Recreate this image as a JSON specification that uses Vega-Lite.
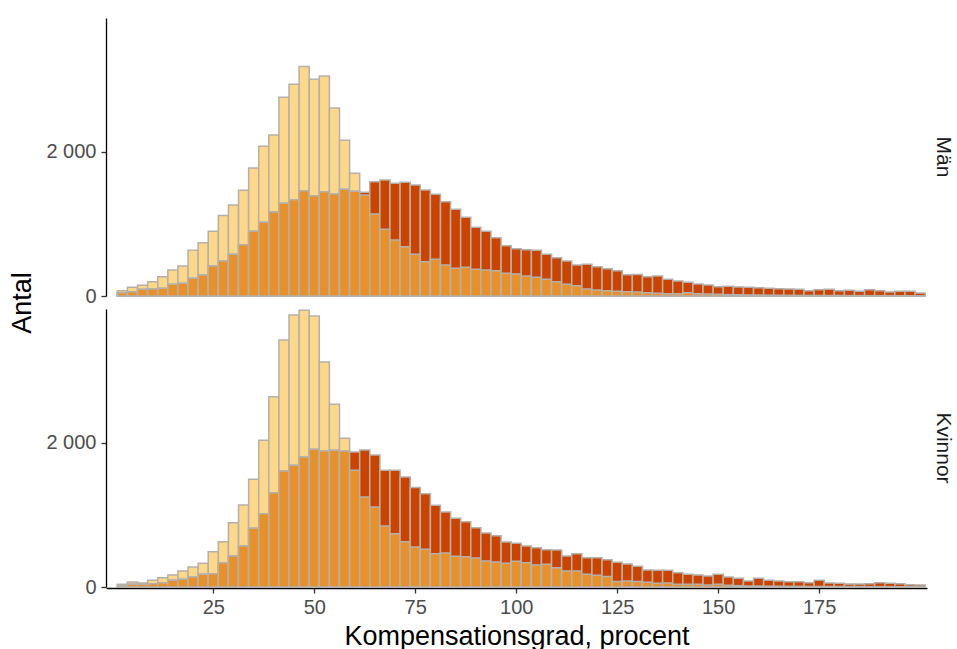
{
  "$schema": "https://vega.github.io/schema/vega-lite/v6.json",
  "padding": {"left": 9, "top": 18, "right": 2, "bottom": 5},
  "data": {"values": [
    {"s":"Män","lo":1.25,"hi":3.75,"a":74,"b":46,"o":46},
    {"s":"Män","lo":3.75,"hi":6.25,"a":121,"b":60,"o":60},
    {"s":"Män","lo":6.25,"hi":8.75,"a":148,"b":93,"o":93},
    {"s":"Män","lo":8.75,"hi":11.25,"a":199,"b":97,"o":97},
    {"s":"Män","lo":11.25,"hi":13.75,"a":268,"b":106,"o":106},
    {"s":"Män","lo":13.75,"hi":16.25,"a":361,"b":162,"o":162},
    {"s":"Män","lo":16.25,"hi":18.75,"a":417,"b":176,"o":176},
    {"s":"Män","lo":18.75,"hi":21.25,"a":634,"b":245,"o":245},
    {"s":"Män","lo":21.25,"hi":23.75,"a":741,"b":292,"o":292},
    {"s":"Män","lo":23.75,"hi":26.25,"a":898,"b":417,"o":417},
    {"s":"Män","lo":26.25,"hi":28.75,"a":1116,"b":486,"o":486},
    {"s":"Män","lo":28.75,"hi":31.25,"a":1264,"b":579,"o":579},
    {"s":"Män","lo":31.25,"hi":33.75,"a":1468,"b":713,"o":713},
    {"s":"Män","lo":33.75,"hi":36.25,"a":1778,"b":898,"o":898},
    {"s":"Män","lo":36.25,"hi":38.75,"a":2079,"b":1023,"o":1023},
    {"s":"Män","lo":38.75,"hi":41.25,"a":2236,"b":1167,"o":1167},
    {"s":"Män","lo":41.25,"hi":43.75,"a":2759,"b":1287,"o":1287},
    {"s":"Män","lo":43.75,"hi":46.25,"a":2940,"b":1338,"o":1338},
    {"s":"Män","lo":46.25,"hi":48.75,"a":3185,"b":1463,"o":1463},
    {"s":"Män","lo":48.75,"hi":51.25,"a":3009,"b":1393,"o":1393},
    {"s":"Män","lo":51.25,"hi":53.75,"a":3056,"b":1449,"o":1449},
    {"s":"Män","lo":53.75,"hi":56.25,"a":2611,"b":1417,"o":1417},
    {"s":"Män","lo":56.25,"hi":58.75,"a":2162,"b":1482,"o":1482},
    {"s":"Män","lo":58.75,"hi":61.25,"a":1704,"b":1454,"o":1454},
    {"s":"Män","lo":61.25,"hi":63.75,"a":1403,"b":1440,"o":1403},
    {"s":"Män","lo":63.75,"hi":66.25,"a":1139,"b":1588,"o":1139},
    {"s":"Män","lo":66.25,"hi":68.75,"a":926,"b":1611,"o":926},
    {"s":"Män","lo":68.75,"hi":71.25,"a":778,"b":1565,"o":778},
    {"s":"Män","lo":71.25,"hi":73.75,"a":685,"b":1579,"o":685},
    {"s":"Män","lo":73.75,"hi":76.25,"a":579,"b":1542,"o":579},
    {"s":"Män","lo":76.25,"hi":78.75,"a":477,"b":1472,"o":477},
    {"s":"Män","lo":78.75,"hi":81.25,"a":509,"b":1412,"o":509},
    {"s":"Män","lo":81.25,"hi":83.75,"a":431,"b":1310,"o":431},
    {"s":"Män","lo":83.75,"hi":86.25,"a":384,"b":1204,"o":384},
    {"s":"Män","lo":86.25,"hi":88.75,"a":398,"b":1093,"o":398},
    {"s":"Män","lo":88.75,"hi":91.25,"a":370,"b":954,"o":370},
    {"s":"Män","lo":91.25,"hi":93.75,"a":361,"b":898,"o":361},
    {"s":"Män","lo":93.75,"hi":96.25,"a":352,"b":810,"o":352},
    {"s":"Män","lo":96.25,"hi":98.75,"a":315,"b":699,"o":315},
    {"s":"Män","lo":98.75,"hi":101.25,"a":306,"b":657,"o":306},
    {"s":"Män","lo":101.25,"hi":103.75,"a":278,"b":643,"o":278},
    {"s":"Män","lo":103.75,"hi":106.25,"a":259,"b":634,"o":259},
    {"s":"Män","lo":106.25,"hi":108.75,"a":232,"b":579,"o":232},
    {"s":"Män","lo":108.75,"hi":111.25,"a":199,"b":532,"o":199},
    {"s":"Män","lo":111.25,"hi":113.75,"a":162,"b":486,"o":162},
    {"s":"Män","lo":113.75,"hi":116.25,"a":143,"b":431,"o":143},
    {"s":"Män","lo":116.25,"hi":118.75,"a":97,"b":440,"o":97},
    {"s":"Män","lo":118.75,"hi":121.25,"a":83,"b":407,"o":83},
    {"s":"Män","lo":121.25,"hi":123.75,"a":72,"b":380,"o":72},
    {"s":"Män","lo":123.75,"hi":126.25,"a":65,"b":352,"o":65},
    {"s":"Män","lo":126.25,"hi":128.75,"a":60,"b":295,"o":60},
    {"s":"Män","lo":128.75,"hi":131.25,"a":56,"b":300,"o":56},
    {"s":"Män","lo":131.25,"hi":133.75,"a":46,"b":268,"o":46},
    {"s":"Män","lo":133.75,"hi":136.25,"a":37,"b":278,"o":37},
    {"s":"Män","lo":136.25,"hi":138.75,"a":32,"b":232,"o":32},
    {"s":"Män","lo":138.75,"hi":141.25,"a":32,"b":208,"o":32},
    {"s":"Män","lo":141.25,"hi":143.75,"a":45,"b":190,"o":45},
    {"s":"Män","lo":143.75,"hi":146.25,"a":32,"b":167,"o":32},
    {"s":"Män","lo":146.25,"hi":148.75,"a":28,"b":153,"o":28},
    {"s":"Män","lo":148.75,"hi":151.25,"a":23,"b":130,"o":23},
    {"s":"Män","lo":151.25,"hi":153.75,"a":19,"b":134,"o":19},
    {"s":"Män","lo":153.75,"hi":156.25,"a":17,"b":125,"o":17},
    {"s":"Män","lo":156.25,"hi":158.75,"a":15,"b":120,"o":15},
    {"s":"Män","lo":158.75,"hi":161.25,"a":14,"b":116,"o":14},
    {"s":"Män","lo":161.25,"hi":163.75,"a":12,"b":106,"o":12},
    {"s":"Män","lo":163.75,"hi":166.25,"a":11,"b":102,"o":11},
    {"s":"Män","lo":166.25,"hi":168.75,"a":10,"b":97,"o":10},
    {"s":"Män","lo":168.75,"hi":171.25,"a":9,"b":93,"o":9},
    {"s":"Män","lo":171.25,"hi":173.75,"a":8,"b":74,"o":8},
    {"s":"Män","lo":173.75,"hi":176.25,"a":8,"b":88,"o":8},
    {"s":"Män","lo":176.25,"hi":178.75,"a":7,"b":93,"o":7},
    {"s":"Män","lo":178.75,"hi":181.25,"a":7,"b":74,"o":7},
    {"s":"Män","lo":181.25,"hi":183.75,"a":6,"b":79,"o":6},
    {"s":"Män","lo":183.75,"hi":186.25,"a":6,"b":65,"o":6},
    {"s":"Män","lo":186.25,"hi":188.75,"a":5,"b":88,"o":5},
    {"s":"Män","lo":188.75,"hi":191.25,"a":5,"b":74,"o":5},
    {"s":"Män","lo":191.25,"hi":193.75,"a":5,"b":56,"o":5},
    {"s":"Män","lo":193.75,"hi":196.25,"a":4,"b":65,"o":4},
    {"s":"Män","lo":196.25,"hi":198.75,"a":4,"b":65,"o":4},
    {"s":"Män","lo":198.75,"hi":201.25,"a":3,"b":40,"o":3},
    {"s":"Kvinnor","lo":1.25,"hi":3.75,"a":37,"b":14,"o":14},
    {"s":"Kvinnor","lo":3.75,"hi":6.25,"a":69,"b":37,"o":37},
    {"s":"Kvinnor","lo":6.25,"hi":8.75,"a":56,"b":37,"o":37},
    {"s":"Kvinnor","lo":8.75,"hi":11.25,"a":93,"b":46,"o":46},
    {"s":"Kvinnor","lo":11.25,"hi":13.75,"a":129,"b":60,"o":60},
    {"s":"Kvinnor","lo":13.75,"hi":16.25,"a":167,"b":93,"o":93},
    {"s":"Kvinnor","lo":16.25,"hi":18.75,"a":222,"b":107,"o":107},
    {"s":"Kvinnor","lo":18.75,"hi":21.25,"a":278,"b":139,"o":139},
    {"s":"Kvinnor","lo":21.25,"hi":23.75,"a":329,"b":176,"o":176},
    {"s":"Kvinnor","lo":23.75,"hi":26.25,"a":490,"b":185,"o":185},
    {"s":"Kvinnor","lo":26.25,"hi":28.75,"a":629,"b":338,"o":338},
    {"s":"Kvinnor","lo":28.75,"hi":31.25,"a":893,"b":431,"o":431},
    {"s":"Kvinnor","lo":31.25,"hi":33.75,"a":1139,"b":569,"o":569},
    {"s":"Kvinnor","lo":33.75,"hi":36.25,"a":1495,"b":815,"o":815},
    {"s":"Kvinnor","lo":36.25,"hi":38.75,"a":2037,"b":1018,"o":1018},
    {"s":"Kvinnor","lo":38.75,"hi":41.25,"a":2643,"b":1310,"o":1310},
    {"s":"Kvinnor","lo":41.25,"hi":43.75,"a":3431,"b":1611,"o":1611},
    {"s":"Kvinnor","lo":43.75,"hi":46.25,"a":3778,"b":1690,"o":1690},
    {"s":"Kvinnor","lo":46.25,"hi":48.75,"a":3843,"b":1806,"o":1806},
    {"s":"Kvinnor","lo":48.75,"hi":51.25,"a":3764,"b":1912,"o":1912},
    {"s":"Kvinnor","lo":51.25,"hi":53.75,"a":3125,"b":1889,"o":1889},
    {"s":"Kvinnor","lo":53.75,"hi":56.25,"a":2537,"b":1898,"o":1898},
    {"s":"Kvinnor","lo":56.25,"hi":58.75,"a":2065,"b":1889,"o":1889},
    {"s":"Kvinnor","lo":58.75,"hi":61.25,"a":1620,"b":1875,"o":1620},
    {"s":"Kvinnor","lo":61.25,"hi":63.75,"a":1250,"b":1903,"o":1250},
    {"s":"Kvinnor","lo":63.75,"hi":66.25,"a":1111,"b":1833,"o":1111},
    {"s":"Kvinnor","lo":66.25,"hi":68.75,"a":847,"b":1620,"o":847},
    {"s":"Kvinnor","lo":68.75,"hi":71.25,"a":741,"b":1620,"o":741},
    {"s":"Kvinnor","lo":71.25,"hi":73.75,"a":629,"b":1528,"o":629},
    {"s":"Kvinnor","lo":73.75,"hi":76.25,"a":556,"b":1380,"o":556},
    {"s":"Kvinnor","lo":76.25,"hi":78.75,"a":523,"b":1296,"o":523},
    {"s":"Kvinnor","lo":78.75,"hi":81.25,"a":463,"b":1134,"o":463},
    {"s":"Kvinnor","lo":81.25,"hi":83.75,"a":472,"b":1042,"o":472},
    {"s":"Kvinnor","lo":83.75,"hi":86.25,"a":426,"b":954,"o":426},
    {"s":"Kvinnor","lo":86.25,"hi":88.75,"a":421,"b":907,"o":421},
    {"s":"Kvinnor","lo":88.75,"hi":91.25,"a":403,"b":824,"o":403},
    {"s":"Kvinnor","lo":91.25,"hi":93.75,"a":361,"b":750,"o":361},
    {"s":"Kvinnor","lo":93.75,"hi":96.25,"a":347,"b":713,"o":347},
    {"s":"Kvinnor","lo":96.25,"hi":98.75,"a":329,"b":625,"o":329},
    {"s":"Kvinnor","lo":98.75,"hi":101.25,"a":356,"b":606,"o":356},
    {"s":"Kvinnor","lo":101.25,"hi":103.75,"a":338,"b":569,"o":338},
    {"s":"Kvinnor","lo":103.75,"hi":106.25,"a":306,"b":546,"o":306},
    {"s":"Kvinnor","lo":106.25,"hi":108.75,"a":315,"b":518,"o":315},
    {"s":"Kvinnor","lo":108.75,"hi":111.25,"a":268,"b":514,"o":268},
    {"s":"Kvinnor","lo":111.25,"hi":113.75,"a":222,"b":431,"o":222},
    {"s":"Kvinnor","lo":113.75,"hi":116.25,"a":222,"b":463,"o":222},
    {"s":"Kvinnor","lo":116.25,"hi":118.75,"a":176,"b":407,"o":176},
    {"s":"Kvinnor","lo":118.75,"hi":121.25,"a":162,"b":407,"o":162},
    {"s":"Kvinnor","lo":121.25,"hi":123.75,"a":146,"b":377,"o":146},
    {"s":"Kvinnor","lo":123.75,"hi":126.25,"a":78,"b":342,"o":78},
    {"s":"Kvinnor","lo":126.25,"hi":128.75,"a":83,"b":320,"o":83},
    {"s":"Kvinnor","lo":128.75,"hi":131.25,"a":78,"b":287,"o":78},
    {"s":"Kvinnor","lo":131.25,"hi":133.75,"a":65,"b":236,"o":65},
    {"s":"Kvinnor","lo":133.75,"hi":136.25,"a":51,"b":231,"o":51},
    {"s":"Kvinnor","lo":136.25,"hi":138.75,"a":56,"b":231,"o":56},
    {"s":"Kvinnor","lo":138.75,"hi":141.25,"a":37,"b":199,"o":37},
    {"s":"Kvinnor","lo":141.25,"hi":143.75,"a":37,"b":176,"o":37},
    {"s":"Kvinnor","lo":143.75,"hi":146.25,"a":37,"b":167,"o":37},
    {"s":"Kvinnor","lo":146.25,"hi":148.75,"a":28,"b":153,"o":28},
    {"s":"Kvinnor","lo":148.75,"hi":151.25,"a":37,"b":176,"o":37},
    {"s":"Kvinnor","lo":151.25,"hi":153.75,"a":23,"b":139,"o":23},
    {"s":"Kvinnor","lo":153.75,"hi":156.25,"a":19,"b":120,"o":19},
    {"s":"Kvinnor","lo":156.25,"hi":158.75,"a":14,"b":83,"o":14},
    {"s":"Kvinnor","lo":158.75,"hi":161.25,"a":14,"b":120,"o":14},
    {"s":"Kvinnor","lo":161.25,"hi":163.75,"a":12,"b":93,"o":12},
    {"s":"Kvinnor","lo":163.75,"hi":166.25,"a":11,"b":83,"o":11},
    {"s":"Kvinnor","lo":166.25,"hi":168.75,"a":10,"b":74,"o":10},
    {"s":"Kvinnor","lo":168.75,"hi":171.25,"a":9,"b":74,"o":9},
    {"s":"Kvinnor","lo":171.25,"hi":173.75,"a":8,"b":60,"o":8},
    {"s":"Kvinnor","lo":173.75,"hi":176.25,"a":8,"b":93,"o":8},
    {"s":"Kvinnor","lo":176.25,"hi":178.75,"a":7,"b":56,"o":7},
    {"s":"Kvinnor","lo":178.75,"hi":181.25,"a":7,"b":51,"o":7},
    {"s":"Kvinnor","lo":181.25,"hi":183.75,"a":6,"b":42,"o":6},
    {"s":"Kvinnor","lo":183.75,"hi":186.25,"a":6,"b":42,"o":6},
    {"s":"Kvinnor","lo":186.25,"hi":188.75,"a":5,"b":46,"o":5},
    {"s":"Kvinnor","lo":188.75,"hi":191.25,"a":5,"b":60,"o":5},
    {"s":"Kvinnor","lo":191.25,"hi":193.75,"a":5,"b":51,"o":5},
    {"s":"Kvinnor","lo":193.75,"hi":196.25,"a":4,"b":46,"o":4},
    {"s":"Kvinnor","lo":196.25,"hi":198.75,"a":4,"b":32,"o":4},
    {"s":"Kvinnor","lo":198.75,"hi":201.25,"a":3,"b":28,"o":3}
  ]},
  "transform": [{"fold": ["a", "b", "o"], "as": ["g", "n"]}],
  "facet": {
    "row": {
      "field": "s", "type": "nominal", "sort": ["Män", "Kvinnor"], "title": "Antal",
      "header": {
        "labelOrient": "right", "labelAngle": 90, "labelFontSize": 21, "labelColor": "#1a1a1a",
        "labelFont": "Liberation Sans", "labelPadding": 6,
        "titleOrient": "left", "titleFontSize": 27, "titleFontWeight": "normal", "titleColor": "#000000",
        "titleFont": "Liberation Sans", "titlePadding": -2
      }
    }
  },
  "spacing": 12,
  "spec": {
    "width": 821,
    "height": 278,
    "mark": {"type": "bar", "stroke": "#b5b0aa", "strokeWidth": 1.5},
    "encoding": {
      "x": {
        "field": "lo", "type": "quantitative",
        "scale": {"domain": [-1.56, 201.7], "nice": false, "zero": false},
        "axis": {
          "values": [25, 50, 75, 100, 125, 150, 175], "title": "Kompensationsgrad, procent",
          "grid": false, "domainColor": "#000000", "domainWidth": 1.3, "tickColor": "#333333", "tickSize": 5, "tickWidth": 1.3,
          "labelFontSize": 20, "labelColor": "#4d4d4d", "labelFont": "Liberation Sans", "labelPadding": 4,
          "titleFontSize": 27, "titleFontWeight": "normal", "titleColor": "#000000", "titleFont": "Liberation Sans", "titlePadding": 6
        }
      },
      "x2": {"field": "hi"},
      "y": {
        "field": "n", "type": "quantitative", "stack": null,
        "scale": {"domain": [0, 3860], "nice": false},
        "axis": {
          "values": [0, 2000], "title": null, "labelExpr": "replace(format(datum.value, ','), ',', ' ')",
          "grid": false, "domainColor": "#000000", "domainWidth": 1.3, "tickColor": "#333333", "tickSize": 5, "tickWidth": 1.3,
          "labelFontSize": 20, "labelColor": "#4d4d4d", "labelFont": "Liberation Sans", "labelPadding": 5
        }
      },
      "y2": {"datum": 0},
      "color": {
        "field": "g", "type": "nominal",
        "scale": {"domain": ["a", "b", "o"], "range": ["#fdd78a", "#ca4400", "#e8912b"]},
        "legend": null
      }
    }
  },
  "config": {"view": {"stroke": null}, "font": "Liberation Sans"}
}
